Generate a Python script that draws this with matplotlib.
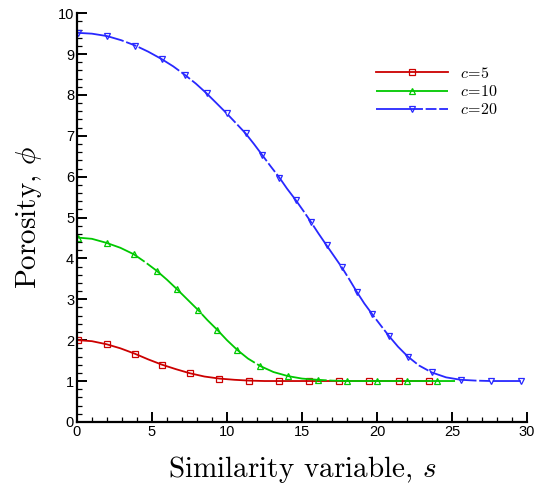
import numpy as np
import matplotlib
matplotlib.use("Agg")
import matplotlib.pyplot as plt
from matplotlib.ticker import MultipleLocator

plt.rcParams['mathtext.fontset'] = 'cm'
plt.rcParams['font.family'] = ['Liberation Sans', 'DejaVu Sans']
plt.rcParams['axes.unicode_minus'] = False

# values; every other point carries a marker
s_c5 = [0.05, 1.0, 1.98, 2.9, 3.85, 4.75, 5.67, 6.6, 7.53, 8.5, 9.49, 10.5, 11.49, 12.5,
        13.47, 14.5, 15.47, 16.5, 17.47, 18.5, 19.47, 20.5, 21.47, 22.5, 23.47]
phi_c5 = [2.0, 1.975, 1.90, 1.80, 1.67, 1.53, 1.40, 1.29, 1.19, 1.11, 1.06, 1.03, 1.01, 1.0,
          1.0, 1.0, 1.0, 1.0, 1.0, 1.0, 1.0, 1.0, 1.0, 1.0, 1.0]

s_c10 = [0.05, 1.0, 1.98, 2.9, 3.8, 4.55, 5.31, 6.0, 6.69, 7.38, 8.07, 8.7, 9.36, 10.0,
         10.69, 11.4, 12.2, 13.1, 14.07, 15.0, 16.04, 17.0, 18.0, 19.0, 20.0, 21.0,
         22.0, 23.0, 24.0, 25.2]
phi_c10 = [4.51, 4.48, 4.38, 4.26, 4.10, 3.91, 3.70, 3.48, 3.24, 2.99, 2.74, 2.49, 2.25, 2.00,
           1.76, 1.55, 1.37, 1.22, 1.12, 1.06, 1.03, 1.01, 1.0, 1.0, 1.0, 1.0,
           1.0, 1.0, 1.0, 1.0]

s_c20 = [0.05, 1.0, 2.02, 2.95, 3.89, 4.75, 5.64, 6.42, 7.2, 7.92, 8.64, 9.3, 9.98, 10.6,
         11.24, 11.8, 12.35, 12.9, 13.49, 14.0, 14.58, 15.1, 15.6, 16.1, 16.64, 17.15,
         17.66, 18.15, 18.64, 19.15, 19.69, 20.25, 20.8, 21.4, 22.05, 22.8, 23.65, 24.6,
         25.58, 26.6, 27.58, 28.6, 29.58]
phi_c20 = [9.52, 9.50, 9.44, 9.34, 9.21, 9.06, 8.88, 8.70, 8.49, 8.28, 8.04, 7.80, 7.55, 7.31,
           7.06, 6.80, 6.53, 6.26, 5.98, 5.71, 5.43, 5.16, 4.89, 4.61, 4.32, 4.05,
           3.78, 3.49, 3.19, 2.90, 2.63, 2.36, 2.10, 1.84, 1.60, 1.38, 1.21, 1.09,
           1.03, 1.01, 1.0, 1.0, 1.0]

labels = [r'$c\!=\!5$', r'$c\!=\!10$', r'$c\!=\!20$']

fig = plt.figure(figsize=(5.34, 4.90), dpi=100)
ax = fig.add_axes([0.144, 0.139, 0.843, 0.834])

ax.plot(s_c5, phi_c5, color='#cc0000', lw=1.3, marker='s', ms=4.5, markevery=2,
        mfc='none', mec='#cc0000', mew=0.9, label=labels[0])
ax.plot(s_c10, phi_c10, color='#00c800', lw=1.3, dashes=(40, 1.5), marker='^', ms=5,
        mfc='none', mec='#00c800', mew=0.9, markevery=slice(0, 29, 2), label=labels[1])
ax.plot(s_c20, phi_c20, color='#2828ff', lw=1.3, dashes=(26, 1.5, 6, 1.5), marker='v', ms=5,
        mfc='none', mec='#2828ff', mew=0.9, markevery=2, label=labels[2])

ax.set_xlim(0, 30)
ax.set_ylim(0, 10)
ax.xaxis.set_major_locator(MultipleLocator(5))
ax.xaxis.set_minor_locator(MultipleLocator(1))
ax.yaxis.set_major_locator(MultipleLocator(1))
ax.yaxis.set_minor_locator(MultipleLocator(0.2))

for side in ['top', 'right']:
    ax.spines[side].set_visible(False)
for side in ['left', 'bottom']:
    ax.spines[side].set_linewidth(1.6)

ax.tick_params(which='major', direction='in', length=7, width=1.4, labelsize=10.5, pad=2)
ax.tick_params(which='minor', direction='in', length=3.5, width=0.9)

ax.set_xlabel(r'Similarity variable, $s$', fontsize=21, family='cmr10', labelpad=11)
ax.set_ylabel(r'Porosity, $\phi$', fontsize=21, family='cmr10', labelpad=10)

leg = ax.legend(loc='upper left', bbox_to_anchor=(0.632, 0.906), frameon=False,
                fontsize=11.5, handlelength=4.5, handletextpad=0.75, labelspacing=0.2)

fig.savefig('out.png', dpi=100)
